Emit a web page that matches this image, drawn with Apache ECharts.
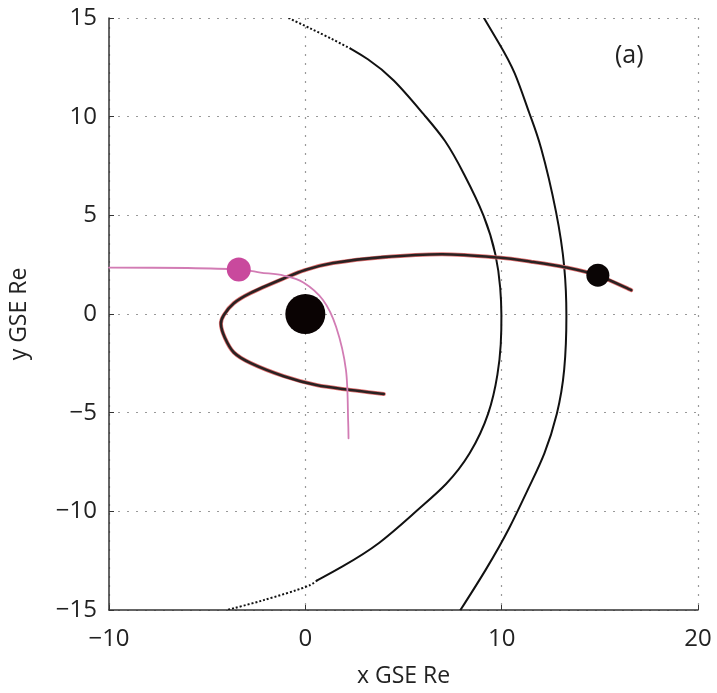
<!DOCTYPE html>
<html>
<head>
<meta charset="utf-8">
<script src="https://cdn.jsdelivr.net/npm/echarts@6/dist/echarts.min.js"></script>
<style>
html,body{margin:0;padding:0;background:#fff;}
#chart{width:717px;height:693px;}
</style>
</head>
<body>
<div id="chart"></div>
<script>
// Axis ticks
var xTicks = [-10, 0, 10, 20];
var yTicks = [-15, -10, -5, 0, 5, 10, 15];

// Magnetopause (inner arc): dotted top part, solid part, dotted bottom part
var mpTopDotted = [[-0.86, 15], [0.3, 14.45], [1.42, 13.9], [2.3, 13.45]];
var mpSolid = [[2.3, 13.45], [3.09, 13.0], [4.45, 12.0], [6.12, 10.0], [7.14, 8.84], [8.06, 7.16], [9.16, 4.96], [9.75, 2.94], [9.95, 1.26], [10.0, 0], [9.97, -1.6], [9.83, -2.95], [9.41, -5.05], [8.4, -7.16], [7.2, -8.67], [5.79, -9.85], [3.77, -11.7], [1.75, -12.88], [0.6, -13.5]];
var mpBottomDotted = [[0.6, -13.5], [0, -13.84], [-2.12, -14.5], [-4.0, -15]];

// Bow shock (outer arc)
var bowShock = [[9.1, 15], [9.86, 13.73], [10.67, 12.36], [11.45, 10], [11.94, 8.84], [12.86, 4.96], [13.23, 2.36], [13.33, 0], [13.23, -2.95], [12.86, -5.05], [12.19, -7.16], [11.43, -8.67], [10.45, -10.8], [9.2, -12.98], [7.9, -15]];

// Spacecraft orbit
var orbit = [[16.6, 1.21], [14.9, 1.95], [13.28, 2.36], [11.5, 2.65], [9.83, 2.86], [6.97, 3.03], [3.95, 2.88], [1.42, 2.58], [0, 2.23], [-1.1, 1.8], [-2.8, 1.06], [-3.64, 0.55], [-4.15, -0.05], [-4.3, -0.5], [-4.1, -1.2], [-3.64, -1.95], [-2.78, -2.49], [-1.1, -3.15], [0.56, -3.6], [2.3, -3.85], [4.0, -4.05]];

// Pink trajectory
var pinkTrack = [[-10, 2.35], [-6, 2.33], [-3.39, 2.25], [-2.28, 2.1], [-1.1, 1.95], [-0.1, 1.6], [0.9, 0.71], [1.57, -0.66], [2.07, -2.84], [2.18, -5.4], [2.2, -6.3]];

// Markers
var earth = [[0, 0]];
var scDot = [[14.9, 1.97]];
var pinkDot = [[-3.39, 2.25]];

var FONT = 'Open Sans';
var chart = echarts.init(document.getElementById('chart'));
function fmt(v){ return String(v).replace('-', '\u2212'); }

// Catmull-Rom path through pixel points
function catmullPath(p) {
  var n = p.length;
  var s = 'M' + p[0][0] + ' ' + p[0][1];
  for (var i = 0; i < n - 1; i++) {
    var p0 = p[i > 0 ? i - 1 : i], p1 = p[i], p2 = p[i + 1], p3 = p[i + 2 < n ? i + 2 : i + 1];
    s += ' C' + (p1[0] + (p2[0] - p0[0]) / 6) + ' ' + (p1[1] + (p2[1] - p0[1]) / 6) + ' ' +
         (p2[0] - (p3[0] - p1[0]) / 6) + ' ' + (p2[1] - (p3[1] - p1[1]) / 6) + ' ' + p2[0] + ' ' + p2[1];
  }
  return s;
}
// Clamped uniform cubic B-spline path (smooths reading noise)
function bsplinePath(pts) {
  var q = [pts[0], pts[0]].concat(pts, [pts[pts.length - 1], pts[pts.length - 1]]);
  var s = '';
  for (var i = 0; i + 3 < q.length; i++) {
    var a = q[i], b = q[i + 1], c = q[i + 2], d = q[i + 3];
    var b0 = [(a[0] + 4 * b[0] + c[0]) / 6, (a[1] + 4 * b[1] + c[1]) / 6];
    var b1 = [(2 * b[0] + c[0]) / 3, (2 * b[1] + c[1]) / 3];
    var b2 = [(b[0] + 2 * c[0]) / 3, (b[1] + 2 * c[1]) / 3];
    var b3 = [(b[0] + 4 * c[0] + d[0]) / 6, (b[1] + 4 * c[1] + d[1]) / 6];
    if (i === 0) s += 'M' + b0[0] + ' ' + b0[1];
    s += ' C' + b1[0] + ' ' + b1[1] + ' ' + b2[0] + ' ' + b2[1] + ' ' + b3[0] + ' ' + b3[1];
  }
  return s;
}

function curveSeries(data, color, width, dash, z, mode) {
  return {
    type: 'custom', data: data, z: z, clip: true,
    encode: {x: 0, y: 1},
    renderItem: function (params, api) {
      if (params.dataIndex !== 0) return null;
      var p = data.map(function (d) { return api.coord(d); });
      var s = mode === 'b' ? bsplinePath(p) : catmullPath(p);
      return {
        type: 'path', shape: {pathData: s},
        style: {fill: null, stroke: color, lineWidth: width, lineDash: dash || null, lineCap: dash ? 'butt' : 'round'}
      };
    }
  };
}

chart.setOption({
  animation: false,
  backgroundColor: '#fff',
  title: {
    text: '(a)', left: 610, top: 38,
    textStyle: {fontFamily: FONT, fontSize: 25, fontWeight: 'normal', color: '#222'}
  },
  grid: {left: 105, top: 18, right: 19, bottom: 83},
  xAxis: {
    type: 'value', min: -10, max: 20, interval: 10,
    name: 'x GSE Re', nameLocation: 'middle', nameGap: 55,
    nameTextStyle: {fontFamily: FONT, fontSize: 23, color: '#222'},
    axisLine: {onZero: false, lineStyle: {color: '#333', width: 1.5}},
    axisTick: {inside: true, length: 5, lineStyle: {color: '#333'}},
    axisLabel: {fontFamily: FONT, fontSize: 24, color: '#222', margin: 17, formatter: fmt},
    splitLine: {show: true, lineStyle: {color: '#999', type: [2, 7], width: 1.2}}
  },
  yAxis: {
    type: 'value', min: -15, max: 15, interval: 5,
    name: 'y GSE Re', nameLocation: 'middle', nameGap: 78,
    nameTextStyle: {fontFamily: FONT, fontSize: 23, color: '#222'},
    axisLine: {show: true, onZero: false, lineStyle: {color: '#333', width: 1.5}},
    axisTick: {show: true, inside: true, length: 5, lineStyle: {color: '#333'}},
    axisLabel: {fontFamily: FONT, fontSize: 24, color: '#222', margin: 12, formatter: fmt},
    splitLine: {show: true, lineStyle: {color: '#999', type: [2, 7], width: 1.2}}
  },
  series: [
    curveSeries(mpTopDotted, '#111', 2, [2, 2], 3, 'c'),
    curveSeries(mpSolid, '#111', 2, null, 3, 'b'),
    curveSeries(mpBottomDotted, '#111', 2, [2, 2], 3, 'c'),
    curveSeries(bowShock, '#111', 2, null, 3, 'b'),
    curveSeries(orbit, '#e07070', 4, null, 4, 'c'),
    curveSeries(orbit, '#2a2222', 2.6, null, 5, 'c'),
    curveSeries(pinkTrack, '#d27cb4', 1.8, null, 6, 'c'),
    {type: 'scatter', data: pinkDot, symbolSize: 24, itemStyle: {color: '#c9499d', opacity: 1}, z: 7},
    {type: 'scatter', data: scDot, symbolSize: 23, itemStyle: {color: '#0a0505', opacity: 1}, z: 7},
    {type: 'scatter', data: earth, symbolSize: 40, itemStyle: {color: '#0a0303', opacity: 1}, z: 7}
  ]
});
</script>
</body>
</html>
